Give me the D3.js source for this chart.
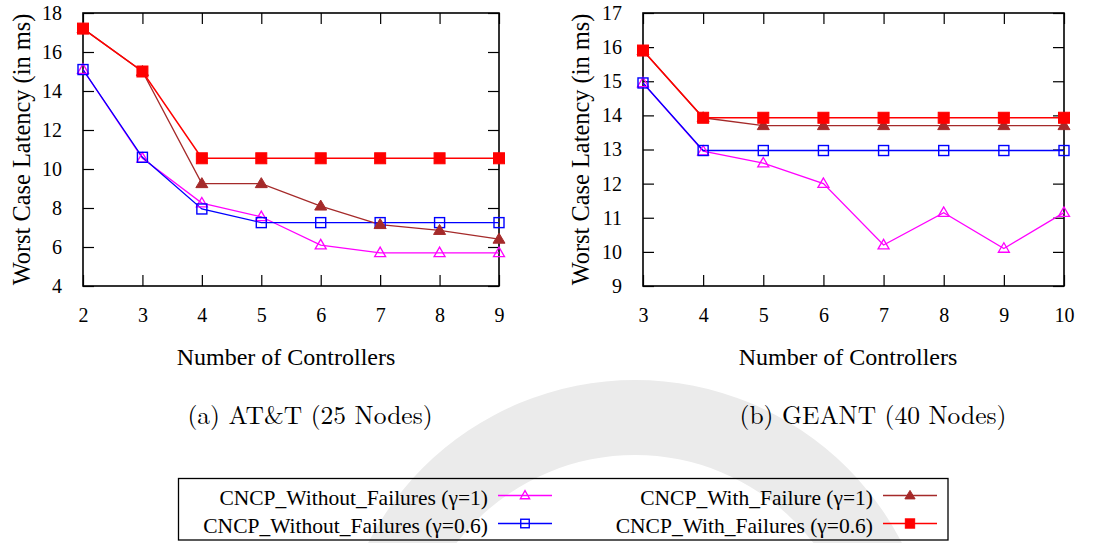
<!DOCTYPE html>
<html>
<head>
<meta charset="utf-8">
<script src="https://cdn.jsdelivr.net/npm/d3@7"></script>
<style>
  html, body { margin: 0; padding: 0; background: #fff; }
</style>
</head>
<body>
<svg id="fig" width="1094" height="543"></svg>
<script>
// ---- data -------------------------------------------------------------
// (a) AT&T, 25 nodes
const attControllers = [2, 3, 4, 5, 6, 7, 8, 9];
const attWithoutG1   = [15.1, 10.55, 8.25, 7.55, 6.1, 5.7, 5.7, 5.7];
const attWithoutG06  = [15.1, 10.6, 7.95, 7.25, 7.25, 7.25, 7.25, 7.25];
const attWithG1      = [17.2, 15.0, 9.25, 9.25, 8.1, 7.15, 6.85, 6.4];
const attWithG06     = [17.2, 15.0, 10.55, 10.55, 10.55, 10.55, 10.55, 10.55];
const attYTicks      = [4, 6, 8, 10, 12, 14, 16, 18];

// (b) GEANT, 40 nodes
const geantControllers = [3, 4, 5, 6, 7, 8, 9, 10];
const geantWithoutG1   = [14.95, 12.95, 12.6, 12.0, 10.2, 11.15, 10.1, 11.15];
const geantWithoutG06  = [14.95, 12.97, 12.97, 12.97, 12.97, 12.97, 12.97, 12.97];
const geantWithG1      = [15.9, 13.93, 13.7, 13.7, 13.7, 13.7, 13.7, 13.7];
const geantWithG06     = [15.9, 13.93, 13.93, 13.93, 13.93, 13.93, 13.93, 13.93];
const geantYTicks      = [9, 10, 11, 12, 13, 14, 15, 16, 17];

const seriesNames = [
  "CNCP_Without_Failures (\u03B3=1)",
  "CNCP_Without_Failures (\u03B3=0.6)",
  "CNCP_With_Failure (\u03B3=1)",
  "CNCP_With_Failures (\u03B3=0.6)"
];

// ---- styling ----------------------------------------------------------
const SERIF = "Liberation Serif";
const CAPTION_FONT = "Latin Modern Roman";

const styles = [
  { color: "#ff00ff", marker: "triangle", filled: false, width: 1.3 },
  { color: "#0000ff", marker: "square",   filled: false, width: 1.3 },
  { color: "#a52a2a", marker: "triangle", filled: true,  width: 1.3 },
  { color: "#ff0000", marker: "square",   filled: true,  width: 1.5 }
];

const svg = d3.select("#fig");

// faint emblem ring in the page background
svg.append("path")
  .attr("d", d3.arc()({ innerRadius: 225, outerRadius: 300, startAngle: 0, endAngle: 2 * Math.PI }))
  .attr("transform", "translate(635,680)")
  .attr("fill", "#ebebeb");

function drawMarker(g, type, filled, color, cx, cy, scale) {
  const k = scale || 1;
  if (type === "square") {
    const s = (filled ? 11 : 10) * k;
    g.append("rect")
      .attr("x", cx - s / 2).attr("y", cy - s / 2)
      .attr("width", s).attr("height", s)
      .attr("fill", filled ? color : "none")
      .attr("stroke", color).attr("stroke-width", filled ? 1 : 1.4);
  } else {
    const h = (filled ? 10 : 9.5) * k, w = (filled ? 12 : 11) * k;
    const pts = [[cx, cy - h * 0.6], [cx - w / 2, cy + h * 0.4], [cx + w / 2, cy + h * 0.4]];
    g.append("path")
      .attr("d", "M" + pts.map(p => p.join(",")).join("L") + "Z")
      .attr("fill", filled ? color : "none")
      .attr("stroke", color).attr("stroke-width", filled ? 1 : 1.3)
      .attr("stroke-linejoin", "miter");
  }
}

function panel(opts) {
  const { left, right, top, bottom, xs, series, yDomain, yTicks,
          caption, captionX, xlabelX, ylabelX } = opts;
  const g = svg.append("g");
  const x = d3.scaleLinear().domain(d3.extent(xs)).range([left, right]);
  const y = d3.scaleLinear().domain(yDomain).range([bottom, top]);
  const tickLen = 11;

  // inward ticks on all four sides
  const axisStyle = sel => {
    sel.attr("font-family", SERIF).attr("font-size", 20);
    sel.select(".domain").remove();
    sel.selectAll(".tick line").attr("stroke", "#000").attr("stroke-width", 1.2);
    sel.selectAll(".tick text")
      .attr("font-family", SERIF)
      .attr("font-size", 20)
      .attr("fill", "#000");
  };
  g.append("g").attr("transform", `translate(0,${bottom})`)
    .call(d3.axisBottom(x).tickValues(xs).tickFormat(d3.format("d")).tickSizeInner(-tickLen).tickPadding(22))
    .call(axisStyle);
  g.append("g").attr("transform", `translate(0,${top})`)
    .call(d3.axisTop(x).tickValues(xs).tickFormat("").tickSizeInner(-tickLen))
    .call(axisStyle);
  g.append("g").attr("transform", `translate(${left},0)`)
    .call(d3.axisLeft(y).tickValues(yTicks).tickFormat(d3.format("d")).tickSizeInner(-tickLen).tickPadding(21))
    .call(axisStyle);
  g.append("g").attr("transform", `translate(${right},0)`)
    .call(d3.axisRight(y).tickValues(yTicks).tickFormat("").tickSizeInner(-tickLen))
    .call(axisStyle);

  // frame
  g.append("rect")
    .attr("x", left).attr("y", top)
    .attr("width", right - left).attr("height", bottom - top)
    .attr("fill", "none").attr("stroke", "#000").attr("stroke-width", 1.6);

  // series: lines first, then markers on top
  const line = d3.line().x((d, i) => x(xs[i])).y(d => y(d));
  series.forEach((vals, k) => {
    const st = styles[k];
    g.append("path").datum(vals)
      .attr("d", line)
      .attr("fill", "none").attr("stroke", st.color).attr("stroke-width", st.width);
  });
  series.forEach((vals, k) => {
    const st = styles[k];
    vals.forEach((v, i) => drawMarker(g, st.marker, st.filled, st.color, x(xs[i]), y(v)));
  });

  // axis titles and caption
  g.append("text")
    .attr("transform", `translate(${ylabelX},${(top + bottom) / 2}) rotate(-90)`)
    .attr("text-anchor", "middle")
    .attr("font-family", SERIF).attr("font-size", 24.4)
    .text("Worst Case Latency (in ms)");
  g.append("text")
    .attr("x", xlabelX).attr("y", 365)
    .attr("text-anchor", "middle")
    .attr("font-family", SERIF).attr("font-size", 24)
    .text("Number of Controllers");
  g.append("text")
    .attr("x", captionX).attr("y", 424)
    .attr("text-anchor", "middle")
    .attr("font-family", CAPTION_FONT).attr("font-size", 25.5)
    .text(caption);
}

panel({
  left: 83, right: 499, top: 13, bottom: 286,
  xs: attControllers,
  series: [attWithoutG1, attWithoutG06, attWithG1, attWithG06],
  yDomain: [4, 18], yTicks: attYTicks,
  caption: "(a) AT&T (25 Nodes)", captionX: 310,
  xlabelX: 286, ylabelX: 30
});

panel({
  left: 643, right: 1064, top: 13, bottom: 286,
  xs: geantControllers,
  series: [geantWithoutG1, geantWithoutG06, geantWithG1, geantWithG06],
  yDomain: [9, 17], yTicks: geantYTicks,
  caption: "(b) GEANT (40 Nodes)", captionX: 873,
  xlabelX: 848, ylabelX: 589
});

// ---- legend -----------------------------------------------------------
const legend = svg.append("g");
legend.append("rect")
  .attr("x", 178.5).attr("y", 478.5).attr("width", 769.5).attr("height", 61.5)
  .attr("fill", "none").attr("stroke", "#000").attr("stroke-width", 1.3);

const legendSlots = [
  { textX: 488, sampleX: 498, y: 495.5 },
  { textX: 488, sampleX: 498, y: 523.5 },
  { textX: 873, sampleX: 883, y: 495.5 },
  { textX: 873, sampleX: 883, y: 523.5 }
];
seriesNames.forEach((name, k) => {
  const s = legendSlots[k], st = styles[k];
  legend.append("text")
    .attr("x", s.textX).attr("y", s.y + 9.5)
    .attr("text-anchor", "end")
    .attr("font-family", SERIF).attr("font-size", 21.5)
    .text(name);
  legend.append("line")
    .attr("x1", s.sampleX).attr("x2", s.sampleX + 54)
    .attr("y1", s.y).attr("y2", s.y)
    .attr("stroke", st.color).attr("stroke-width", st.width);
  drawMarker(legend, st.marker, st.filled, st.color, s.sampleX + 27, s.y, 0.85);
});
</script>
</body>
</html>
